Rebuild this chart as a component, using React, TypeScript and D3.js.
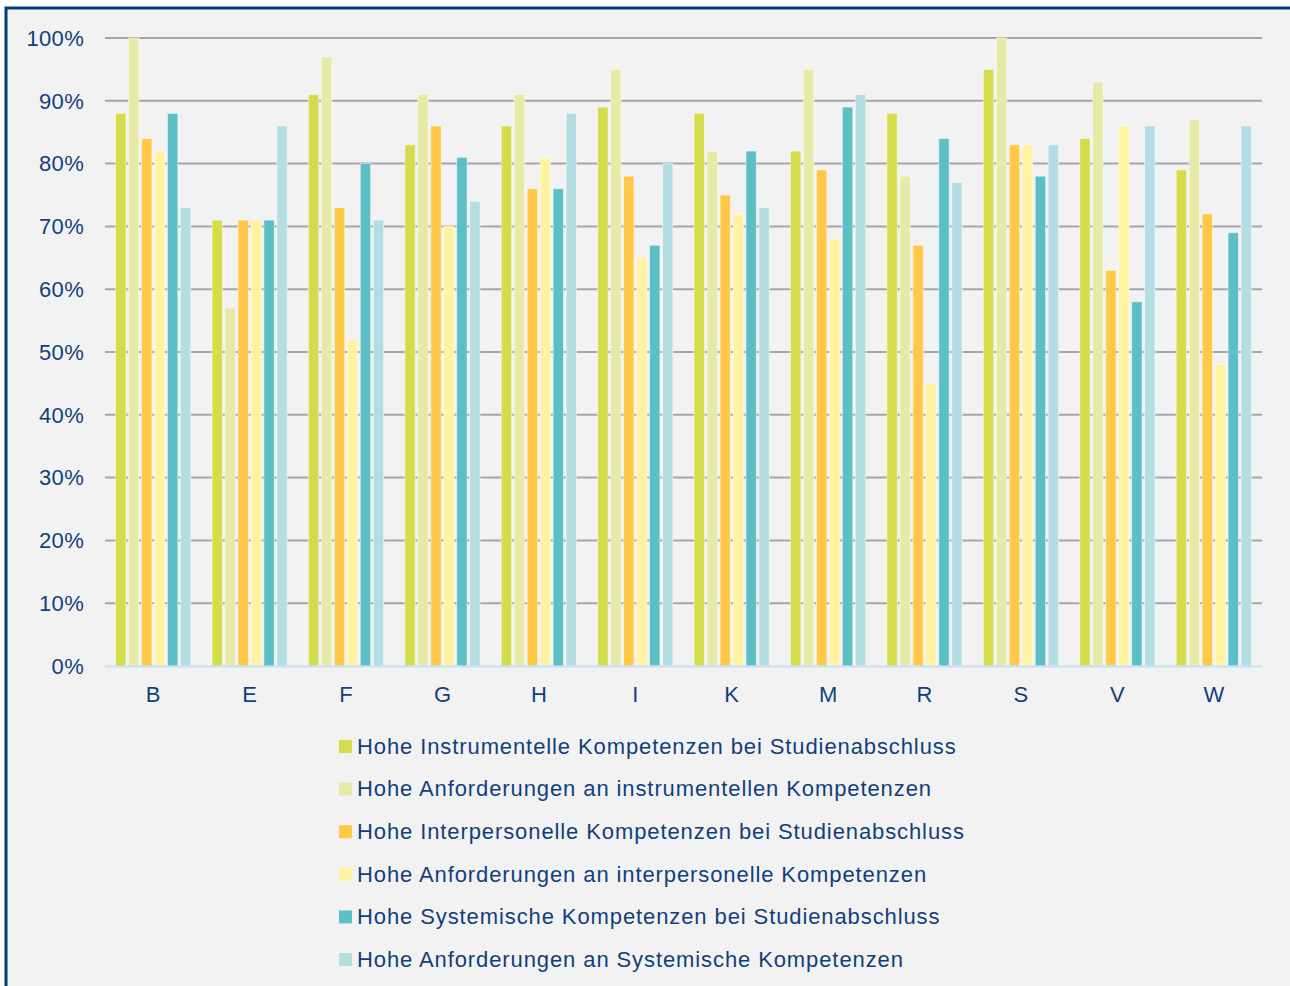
import React from "react";
import * as d3 from "d3";

const categories = ["B", "E", "F", "G", "H", "I", "K", "M", "R", "S", "V", "W"];
const seriesNames = [
  "Hohe Instrumentelle Kompetenzen bei Studienabschluss",
  "Hohe Anforderungen an instrumentellen Kompetenzen",
  "Hohe Interpersonelle Kompetenzen bei Studienabschluss",
  "Hohe Anforderungen an interpersonelle Kompetenzen",
  "Hohe Systemische Kompetenzen bei Studienabschluss",
  "Hohe Anforderungen an Systemische Kompetenzen",
];
const instrKomp = [88, 71, 91, 83, 86, 89, 88, 82, 88, 95, 84, 79];
const instrAnf = [100, 57, 97, 91, 91, 95, 82, 95, 78, 100, 93, 87];
const interKomp = [84, 71, 73, 86, 76, 78, 75, 79, 67, 83, 63, 72];
const interAnf = [82, 71, 52, 70, 81, 65, 72, 68, 45, 83, 86, 48];
const sysKomp = [88, 71, 80, 81, 76, 67, 82, 89, 84, 78, 58, 69];
const sysAnf = [73, 86, 71, 74, 88, 80, 73, 91, 77, 83, 86, 86];
const seriesValues = [instrKomp, instrAnf, interKomp, interAnf, sysKomp, sysAnf];
const colors = ["#d4dc4c", "#e7e9a7", "#ffc846", "#fff2a1", "#5bbfc5", "#b3dde1"];
const yTicks = [0, 10, 20, 30, 40, 50, 60, 70, 80, 90, 100];

export default function App() {
  const W = 1290, H = 986;
  const left = 105, right = 1262, top = 38, bottom = 666;
  const x0 = d3.scaleBand<string>().domain(categories).range([left, right]).paddingInner(0.22).paddingOuter(0.11);
  const x1 = d3.scaleBand<number>().domain(d3.range(6)).range([0, x0.bandwidth()]).paddingInner(0.2);
  const y = d3.scaleLinear().domain([0, 100]).range([bottom, top]);
  const textColor = "#123f7c";
  const font = "'Liberation Sans', Arial, sans-serif";
  return (
    <svg width={W} height={H} style={{ position: "absolute", left: 0, top: 0 }} fontFamily={font}>
      <rect x={0} y={0} width={W} height={H} fill="#ffffff" />
      <rect x={6} y={8} width={W} height={H} fill="#f2f2f2" stroke="#003a78" strokeWidth={3} />
      {yTicks.map((t) => (
        <g key={t}>
          {t > 0 && (
            <line x1={left} x2={right} y1={y(t)} y2={y(t)} stroke="#a6a6a6" strokeWidth={2} />
          )}
          <text x={84} y={y(t)} dy="0.35em" textAnchor="end" fontSize={22} letterSpacing={0.3} fill={textColor}>
            {t}%
          </text>
        </g>
      ))}
      {categories.map((c, i) => (
        <g key={c}>
          {seriesValues.map((vals, s) => (
            <rect
              key={s}
              x={(x0(c) as number) + (x1(s) as number)}
              y={y(vals[i])}
              width={x1.bandwidth()}
              height={y(0) - y(vals[i])}
              fill={colors[s]}
              stroke="#ffffff"
              strokeOpacity={0.5}
              strokeWidth={1}
            />
          ))}
          <text
            x={(x0(c) as number) + x0.bandwidth() / 2}
            y={702}
            textAnchor="middle"
            fontSize={22}
            fill={textColor}
          >
            {c}
          </text>
        </g>
      ))}
      <line x1={left} x2={right} y1={bottom + 0.5} y2={bottom + 0.5} stroke="#c6e0f7" strokeWidth={2} />
      {seriesNames.map((n, s) => (
        <g key={n} transform={`translate(339, ${746 + s * 42.6})`}>
          <rect x={0} y={-6} width={13} height={13} fill={colors[s]} />
          <text x={18} y={0} dy="0.35em" fontSize={22} letterSpacing={0.9} fill={textColor}>
            {n}
          </text>
        </g>
      ))}
    </svg>
  );
}
